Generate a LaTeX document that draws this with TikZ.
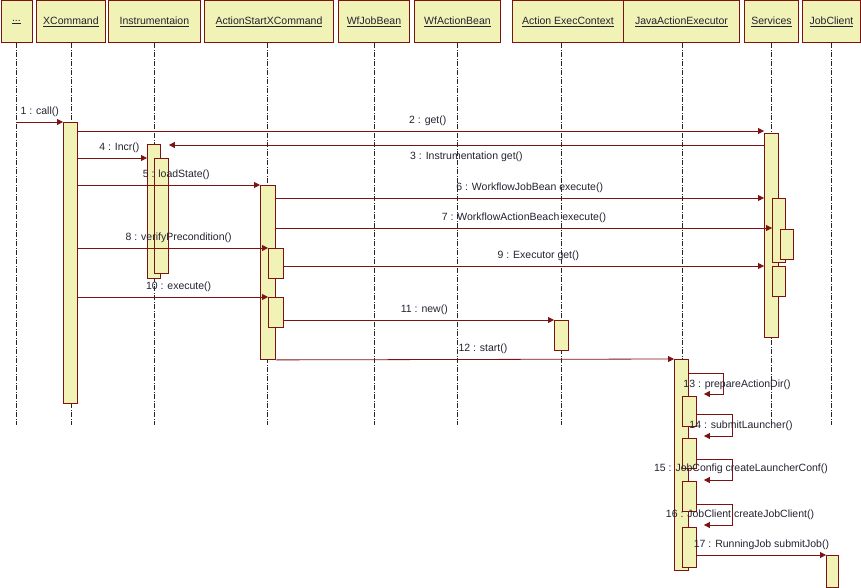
\documentclass[tikz,border=0pt]{standalone}
\usepackage{fontspec}
\setmainfont{Liberation Sans}
\usetikzlibrary{arrows.meta,positioning,calc}
\definecolor{seqfill}{RGB}{241,242,182}
\definecolor{seqline}{RGB}{125,18,18}
\definecolor{seqtext}{RGB}{35,35,50}
\tikzset{
  head/.style={draw=seqline, fill=seqfill, line width=0.9pt, anchor=north west, minimum height=42pt, inner sep=0pt, font=\fontsize{10.5}{12}\selectfont, text=seqtext},
  bar/.style={draw=seqline, fill=seqfill, line width=0.9pt, anchor=north west, inner sep=0pt, minimum width=14pt},
  life/.style={black!85, line width=0.8pt, dash pattern=on 5pt off 1.5pt on 1pt off 1.5pt},
  msg/.style={seqline, line width=0.8pt, -{Triangle[length=6pt,width=6pt]}},
  lbl/.style={font=\fontsize{10.5}{12}\selectfont, text=seqtext, inner sep=1pt}
}

\begin{document}
\begin{tikzpicture}[x=1pt, y=-1pt]
\useasboundingbox (0,0) rectangle (861,588);
% ---- heads ----
\node[head, minimum width=31pt] (hDots) at (0.5,0.5) {\underline{...}};
\node[head, minimum width=69pt] (hXC) at (36,0.5) {\underline{XCommand}};
\node[head, minimum width=92pt] (hIn) at (108,0.5) {\underline{Instrumentaion}};
\node[head, minimum width=129pt] (hAS) at (204,0.5) {\underline{ActionStartXCommand}};
\node[head, minimum width=71pt] (hJB) at (338,0.5) {\underline{WfJobBean}};
\node[head, minimum width=86pt] (hAB) at (414,0.5) {\underline{WfActionBean}};
\node[head, minimum width=111pt] (hEC) at (512,0.5) {\underline{Action ExecContext}};
\node[head, minimum width=116pt] (hJA) at (623,0.5) {\underline{JavaActionExecutor}};
\node[head, minimum width=54pt] (hSv) at (744,0.5) {\underline{Services}};
\node[head, minimum width=58pt] (hJC) at (802,0.5) {\underline{JobClient}};
% ---- lifelines ----
\draw[life] (hDots.south) -- ++(0,382);
\draw[life] (hXC.south) -- ++(0,382);
\draw[life] (hIn.south) -- ++(0,382);
\draw[life] ([xshift=-1.5pt]hAS.south) -- ++(0,382);
\draw[life] (hJB.south) -- ++(0,382);
\draw[life] (hAB.south) -- ++(0,382);
\draw[life] ([xshift=-6.5pt]hEC.south) -- ++(0,382);
\draw[life] ([xshift=1pt]hJA.south) -- ++(0,382);
\draw[life] (hSv.south) -- ++(0,382);
\draw[life] (hJC.south) -- ++(0,382);
% ---- activations ----
\node[bar, minimum height=281pt] (bXC) at (63,122) {};
\node[bar, minimum width=13pt, minimum height=134pt] (bIn1) at (147,144) {};
\node[bar, minimum height=115pt] (bIn2) at (154,158) {};
\node[bar, minimum width=15pt, minimum height=174pt] (bAS) at (260,185) {};
\node[bar, minimum width=15pt, minimum height=30pt] (bAS1) at (268,248) {};
\node[bar, minimum width=15pt, minimum height=30pt] (bAS2) at (268,297) {};
\node[bar, minimum height=204pt] (bSv) at (764,133) {};
\node[bar, minimum width=13pt, minimum height=64pt] (bSv1) at (772,198) {};
\node[bar, minimum width=13pt, minimum height=30pt] (bSv2) at (780,229) {};
\node[bar, minimum width=13pt, minimum height=30pt] (bSv3) at (772,266) {};
\node[bar, minimum height=30pt] (bEC) at (554,320) {};
\node[bar, minimum height=211pt] (bJA) at (674,359) {};
\node[bar, minimum height=30pt] (bJA1) at (682,396) {};
\node[bar, minimum height=30pt] (bJA2) at (682,438) {};
\node[bar, minimum height=30pt] (bJA3) at (682,481) {};
\node[bar, minimum height=40pt] (bJA4) at (682,527) {};
\node[bar, minimum width=12pt, minimum height=32pt] (bJC) at (826,555) {};
% ---- messages ----
\draw[msg] (hDots.south |- bXC.north) -- (bXC.north west) node[lbl, midway, above=4pt] (l1) {1 : call()};
\draw[msg] (bXC.east |- 0,131) -- (bSv.west |- 0,131) node[lbl, pos=.51, above=4pt] (l2) {2 : get()};
\draw[msg] (bSv.west |- 0,145) -- (bIn2.east |- 0,145) node[lbl, midway, below=5pt] (l3) {3 : Instrumentation get()};
\draw[msg] (bXC.east |- 0,158) -- (bIn1.west |- 0,158) node[lbl, pos=.6, above=4pt] (l4) {4 : Incr()};
\draw[msg] (bXC.east |- bAS.north) -- (bAS.north west) node[lbl, pos=.54, above=4pt] (l5) {5 : loadState()};
\draw[msg] (bAS.east |- bSv1.north) -- (bSv.west |- bSv1.north) node[lbl, pos=.52, above=4pt] (l6) {6 : WorkflowJobBean execute()};
\draw[msg] (bAS.east |- 0,228) -- (bSv1.west |- 0,228) node[lbl, pos=.5, above=4pt] (l7) {7 : WorkflowActionBeach execute()};
\draw[msg] (bXC.east |- bAS1.north) -- (bAS1.north west) node[lbl, pos=.53, above=4pt] (l8) {8 : verifyPrecondition()};
\draw[msg] (bAS1.east |- bSv3.north) -- (bSv.west |- bSv3.north) node[lbl, pos=.53, above=4pt] (l9) {9 : Executor get()};
\draw[msg] (bXC.east |- bAS2.north) -- (bAS2.north west) node[lbl, pos=.53, above=4pt] (l10) {10 : execute()};
\draw[msg] (bAS2.east |- bEC.north) -- (bEC.north west) node[lbl, pos=.52, above=4pt] (l11) {11 : new()};
\draw[msg] (bAS.south east) -- (bJA.north west) node[lbl, pos=.52, above=4pt] (l12) {12 : start()};
% self calls
\draw[msg] (bJA.east |- 0,373) -- ++(34,0) -- ++(0,21) -- ++(-19,0);
\node[lbl] (l13) at (737,385) {13 : prepareActionDir()};
\draw[msg] (bJA1.east |- 0,414) -- ++(35,0) -- ++(0,22) -- ++(-28,0);
\node[lbl] (l14) at (741,426) {14 : submitLauncher()};
\draw[msg] (bJA2.east |- 0,459) -- ++(35,0) -- ++(0,21) -- ++(-28,0);
\node[lbl] (l15) at (741,469) {15 : JobConfig createLauncherConf()};
\draw[msg] (bJA3.east |- 0,504) -- ++(35,0) -- ++(0,21) -- ++(-28,0);
\node[lbl] (l16) at (740,515) {16 : JobClient createJobClient()};
\draw[msg] (bJA4.east |- bJC.north) -- (bJC.north west) node[lbl, midway, above=4pt] (l17) {17 : RunningJob submitJob()};
\end{tikzpicture}
\end{document}
